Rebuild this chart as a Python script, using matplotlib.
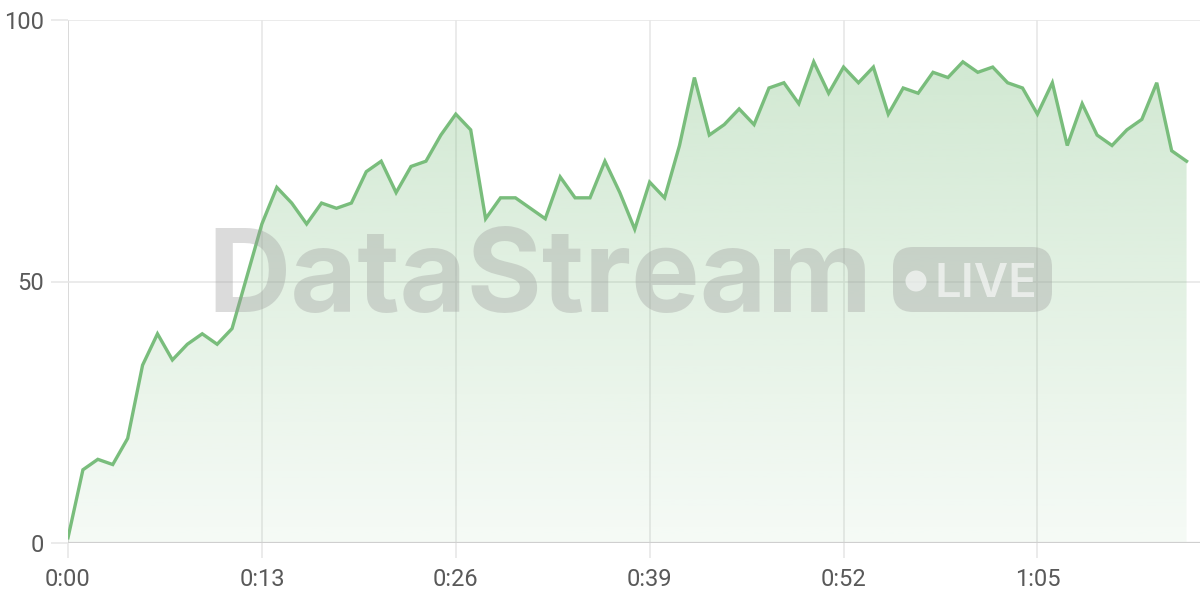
import numpy as np
import matplotlib
matplotlib.use("Agg")
import matplotlib.pyplot as plt
from matplotlib.patches import FancyBboxPatch, Circle
from matplotlib.colors import to_rgb

# one reading per second, 0:00 .. 1:15
seconds = list(range(76))
values = [1, 14, 16, 15, 20, 34, 40, 35, 38, 40,
          38, 41, 51, 61, 68, 65, 61, 65, 64, 65,
          71, 73, 67, 72, 73, 78, 82, 79, 62, 66,
          66, 64, 62, 70, 66, 66, 73, 67, 60, 69,
          66, 76, 89, 78, 80, 83, 80, 87, 88, 84,
          92, 86, 91, 88, 91, 82, 87, 86, 90, 89,
          92, 90, 91, 88, 87, 82, 88, 76, 84, 78,
          76, 79, 81, 88, 75, 73]
tick_secs = [0, 13, 26, 39, 52, 65]
tick_labels = ["0:00", "0:13", "0:26", "0:39", "0:52", "1:05"]
y_ticks = [0, 50, 100]

LINE = "#79bd7c"
GRID = "#e6e6e6"
AXIS = "#cfcfcf"
LABEL = "#595959"

plt.rcParams['font.family'] = ['Roboto', 'DejaVu Sans']

fig = plt.figure(figsize=(12, 6), dpi=100)
ax = fig.add_axes([68 / 1200, 57 / 600, 1 - 68 / 1200, 523 / 600])
ax.set_xlim(0, 75.9)
ax.set_ylim(0, 100)

# gradient fill under the line
fill = ax.fill_between(seconds, values, 0, color="none", lw=0)
rgb = np.array(to_rgb(LINE))
alpha = np.linspace(0.07, 0.34, 256)[:, None]
grad = np.ones((256, 1, 4))
grad[:, :, :3] = rgb
grad[:, :, 3] = alpha
img = ax.imshow(grad, extent=[0, 75, 0, 92], origin="lower", aspect="auto", zorder=1)
img.set_clip_path(fill.get_paths()[0], transform=ax.transData)

ax.plot(seconds, values, color=LINE, lw=2.4, zorder=4, solid_joinstyle="miter")

# grid
for s in tick_secs:
    ax.axvline(s, color=AXIS if s == 0 else GRID, lw=1.1, zorder=0.5)
for v in y_ticks[1:]:
    ax.axhline(v, color=GRID, lw=1.1, zorder=0.5)
ax.axhline(0, color=AXIS, lw=1.6, zorder=5)

for sp in ax.spines.values():
    sp.set_visible(False)
ax.set_xticks(tick_secs, tick_labels)
ax.set_yticks(y_ticks, [str(v) for v in y_ticks])
ax.tick_params(axis="x", length=11, width=1.1, color=GRID, pad=7, labelsize=17, labelcolor=LABEL)
ax.tick_params(axis="y", length=12, width=1.1, color=GRID, pad=5, labelsize=17, labelcolor=LABEL)
ax.set_facecolor("white")

# watermark (pixel positions on the figure)
W, H = 1200, 600
fig.text(540 / W, 1 - 312 / H, "DataStream", family=["Inter", "DejaVu Sans"], fontsize=83,
         fontweight="bold", color="#9a9a9a", alpha=0.35, ha="center", va="baseline", zorder=3)
pill = FancyBboxPatch((893, H - 312), 159, 65, boxstyle="round,pad=0,rounding_size=20",
                      transform=None, fc="#9a9a9a", ec="none", alpha=0.35, zorder=3)
fig.patches.append(pill)
fig.patches.append(Circle((916, H - 281), 10.5, transform=None, fc="white", ec="none",
                          alpha=0.6, zorder=3))
fig.text(986 / W, 1 - 297 / H, "LIVE", family=["Inter", "DejaVu Sans"], fontsize=34,
         fontweight="semibold", color="white", alpha=0.6, ha="center", va="baseline", zorder=3)

fig.savefig("out.png", dpi=100)
